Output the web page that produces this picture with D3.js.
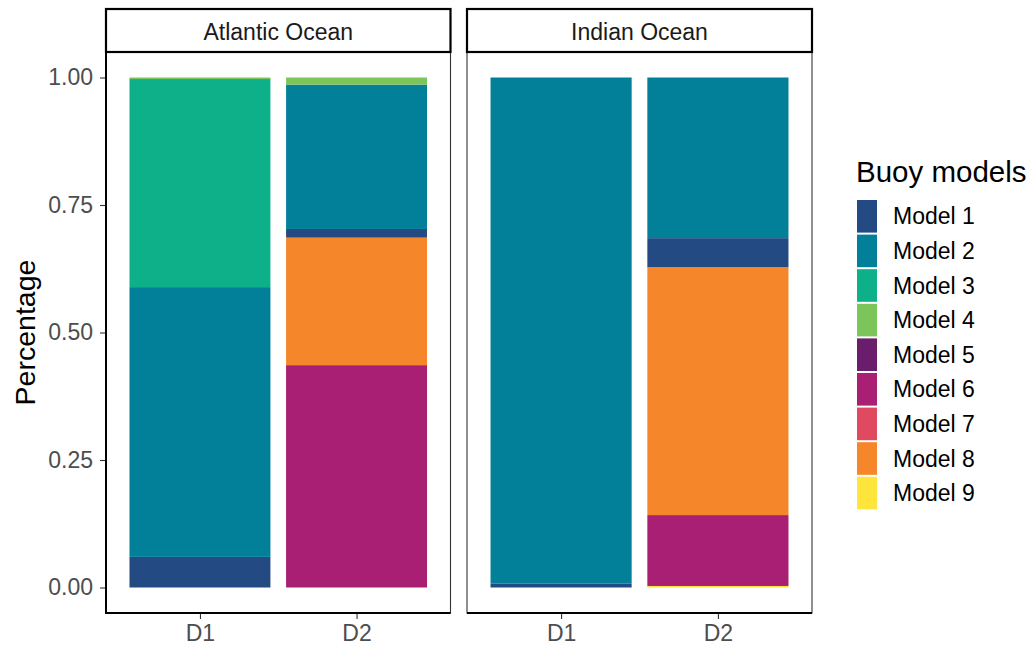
<!DOCTYPE html>
<html>
<head>
<meta charset="utf-8">
<script src="https://cdn.jsdelivr.net/npm/d3@7"></script>
<style>
  html, body { margin: 0; padding: 0; background: #fff; }
  text { font-family: "Liberation Sans", Arial, sans-serif; }
</style>
</head>
<body>
<svg id="chart" width="1032" height="650"></svg>
<script>
// ---- data ----
const oceans = ["Atlantic Ocean", "Indian Ocean"];
const periods = ["D1", "D2"];
const models = ["Model 1","Model 2","Model 3","Model 4","Model 5","Model 6","Model 7","Model 8","Model 9"];
const modelColors = ["#244A84","#02809A","#0DB089","#7CC55B","#6B1D6D","#A81F73","#E04A60","#F5872A","#FDE53B"];
const yTicks = [0, 0.25, 0.5, 0.75, 1.0];
const yTickLabels = ["0.00","0.25","0.50","0.75","1.00"];

// stacked segments listed bottom-to-top for each bar: [model, share]
const atlanticD1 = [["Model 1",0.060],["Model 2",0.529],["Model 3",0.408],["Model 4",0.003]];
const atlanticD2 = [["Model 6",0.436],["Model 8",0.250],["Model 1",0.017],["Model 2",0.283],["Model 4",0.014]];
const indianD1   = [["Model 1",0.008],["Model 2",0.992]];
const indianD2   = [["Model 9",0.003],["Model 6",0.139],["Model 8",0.486],["Model 1",0.057],["Model 2",0.315]];

const bars = [
  {ocean:"Atlantic Ocean", period:"D1", segs:atlanticD1},
  {ocean:"Atlantic Ocean", period:"D2", segs:atlanticD2},
  {ocean:"Indian Ocean",   period:"D1", segs:indianD1},
  {ocean:"Indian Ocean",   period:"D2", segs:indianD2}
];

// ---- layout ----
const svg = d3.select("#chart");
const panelTop = 52, panelBottom = 613;
const panels = { "Atlantic Ocean": [106, 450.5], "Indian Ocean": [467, 812] };
const stripTop = 9;

const color = d3.scaleOrdinal().domain(models).range(modelColors);
const y = d3.scaleLinear().domain([-0.05, 1.05]).range([panelBottom, panelTop]);

oceans.forEach((ocean, i) => {
  const [x0, x1] = panels[ocean];
  // emulate ggplot discrete expansion: 0.6 units each side, bar width 0.9
  const unit = (x1 - x0) / 2.2;
  const xc = d3.scalePoint().domain(periods).range([x0 + 0.6*unit, x1 - 0.6*unit]);
  const bw = 0.9 * unit;

  const g = svg.append("g");
  g.append("rect").attr("x", x0).attr("y", panelTop).attr("width", x1 - x0).attr("height", panelBottom - panelTop)
    .attr("fill", "#fff").attr("stroke", "#333").attr("stroke-width", 1.1);

  bars.filter(b => b.ocean === ocean).forEach(b => {
    let cum = 0;
    const stacked = b.segs.map(([m, v]) => { const s = {m, y0: cum, y1: cum + v}; cum += v; return s; });
    g.selectAll(null).data(stacked).enter().append("rect")
      .attr("x", xc(b.period) - bw/2)
      .attr("width", bw)
      .attr("y", d => y(d.y1))
      .attr("height", d => Math.max(0.6, y(d.y0) - y(d.y1)))
      .attr("fill", d => color(d.m));
  });

  const xAxis = d3.axisBottom(xc).tickSize(6).tickPadding(3);
  const ax = g.append("g").attr("transform", `translate(0,${panelBottom})`).call(xAxis);
  ax.select(".domain").remove();
  ax.selectAll(".tick line").attr("stroke", "#333").attr("stroke-width", 1.1);
  ax.selectAll(".tick text").attr("fill", "#4D4D4D").style("font-size", "23px").attr("dy", "0.82em");
  g.append("line").attr("x1", x0).attr("x2", x1).attr("y1", panelBottom).attr("y2", panelBottom)
    .attr("stroke", "#000").attr("stroke-width", 2);

  if (i === 0) {
    const yAxis = d3.axisLeft(y).tickValues(yTicks).tickFormat((d, k) => yTickLabels[k]).tickSize(6).tickPadding(7);
    const ay = g.append("g").attr("transform", `translate(${x0},0)`).call(yAxis);
    ay.select(".domain").remove();
    ay.selectAll(".tick line").attr("stroke", "#333").attr("stroke-width", 1.1);
    ay.selectAll(".tick text").attr("fill", "#4D4D4D").style("font-size", "23px");
    g.append("line").attr("x1", x0).attr("x2", x0).attr("y1", panelTop).attr("y2", panelBottom + 1)
      .attr("stroke", "#000").attr("stroke-width", 2);
  }

  g.append("rect").attr("x", x0).attr("y", stripTop).attr("width", x1 - x0).attr("height", panelTop - stripTop)
    .attr("fill", "#fff").attr("stroke", "#000").attr("stroke-width", 2.2);
  g.append("text").attr("x", (x0 + x1)/2).attr("y", (stripTop + panelTop)/2 + 1).attr("dy", "0.35em")
    .attr("text-anchor", "middle").attr("fill", "#1A1A1A").style("font-size", "23px").text(ocean);
});

svg.append("text").attr("transform", `translate(35,${(panelTop + panelBottom)/2}) rotate(-90)`)
  .attr("text-anchor", "middle").attr("fill", "#000").style("font-size", "28.5px").text("Percentage");

const legX = 857, legY0 = 199, keyH = 34.6, keyW = 20;
svg.append("text").attr("x", legX - 1).attr("y", 182).attr("fill", "#000").style("font-size", "29.5px").text("Buoy models");
const leg = svg.append("g");
models.forEach((m, k) => {
  leg.append("rect").attr("x", legX).attr("y", legY0 + k*keyH + 1).attr("width", keyW).attr("height", keyH - 2)
    .attr("fill", color(m));
  leg.append("text").attr("x", legX + 36).attr("y", legY0 + k*keyH + keyH/2).attr("dy", "0.35em")
    .attr("fill", "#000").style("font-size", "23px").text(m);
});
</script>
</body>
</html>
